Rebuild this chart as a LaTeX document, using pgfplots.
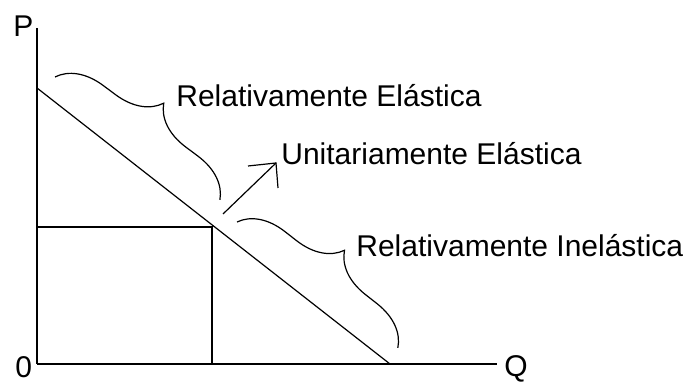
\documentclass[border=0pt]{standalone}
\usepackage{fontspec}
\setmainfont{Liberation Sans}
\usepackage{pgfplots}
\pgfplotsset{compat=1.18}
\usetikzlibrary{decorations.pathreplacing}

\tikzset{lbl/.style={font=\fontsize{15}{18}\selectfont, inner sep=0pt, anchor=base west}}

\begin{document}
\begin{tikzpicture}
\begin{axis}[
  x=0.5pt, y=0.5pt,
  xmin=0, xmax=460, ymin=0, ymax=336,
  axis lines=left,
  axis line style={-, line width=1pt},
  xtick=\empty, ytick=\empty,
  clip=false,
]
% demanda
\addplot[black, line width=0.6pt] coordinates {(0,276) (353,0)};
% rectangulo bajo el punto medio
\addplot[black, line width=1pt] coordinates {(0,137) (175,137) (175,0)};

% llaves
\draw[decorate, decoration={brace, amplitude=22pt, aspect=0.5}, line width=0.6pt]
  (axis cs:18,287) -- (axis cs:183,164);
\draw[decorate, decoration={brace, amplitude=22pt, aspect=0.5}, line width=0.6pt]
  (axis cs:200,142) -- (axis cs:361,16);

% flecha
\draw[line width=0.6pt] (axis cs:186,150) -- (axis cs:239,201);
\draw[line width=0.6pt] (axis cs:211,198) -- (axis cs:239,201) -- (axis cs:241,176);

% textos
\node[lbl] at (axis cs:139,257) {Relativamente Elástica};
\node[lbl] at (axis cs:244,199) {Unitariamente Elástica};
\node[lbl] at (axis cs:319,107) {Relativamente Inelástica};
\node[lbl] at (axis cs:-24,327) {P};
\node[lbl] at (axis cs:-22,-14) {0};
\node[lbl] at (axis cs:467,-13) {Q};

\coordinate (bbA) at (axis cs:-37,-20);
\coordinate (bbB) at (axis cs:655,364);
\end{axis}
\pgfresetboundingbox
\useasboundingbox (bbA) rectangle (bbB);
\end{tikzpicture}
\end{document}
